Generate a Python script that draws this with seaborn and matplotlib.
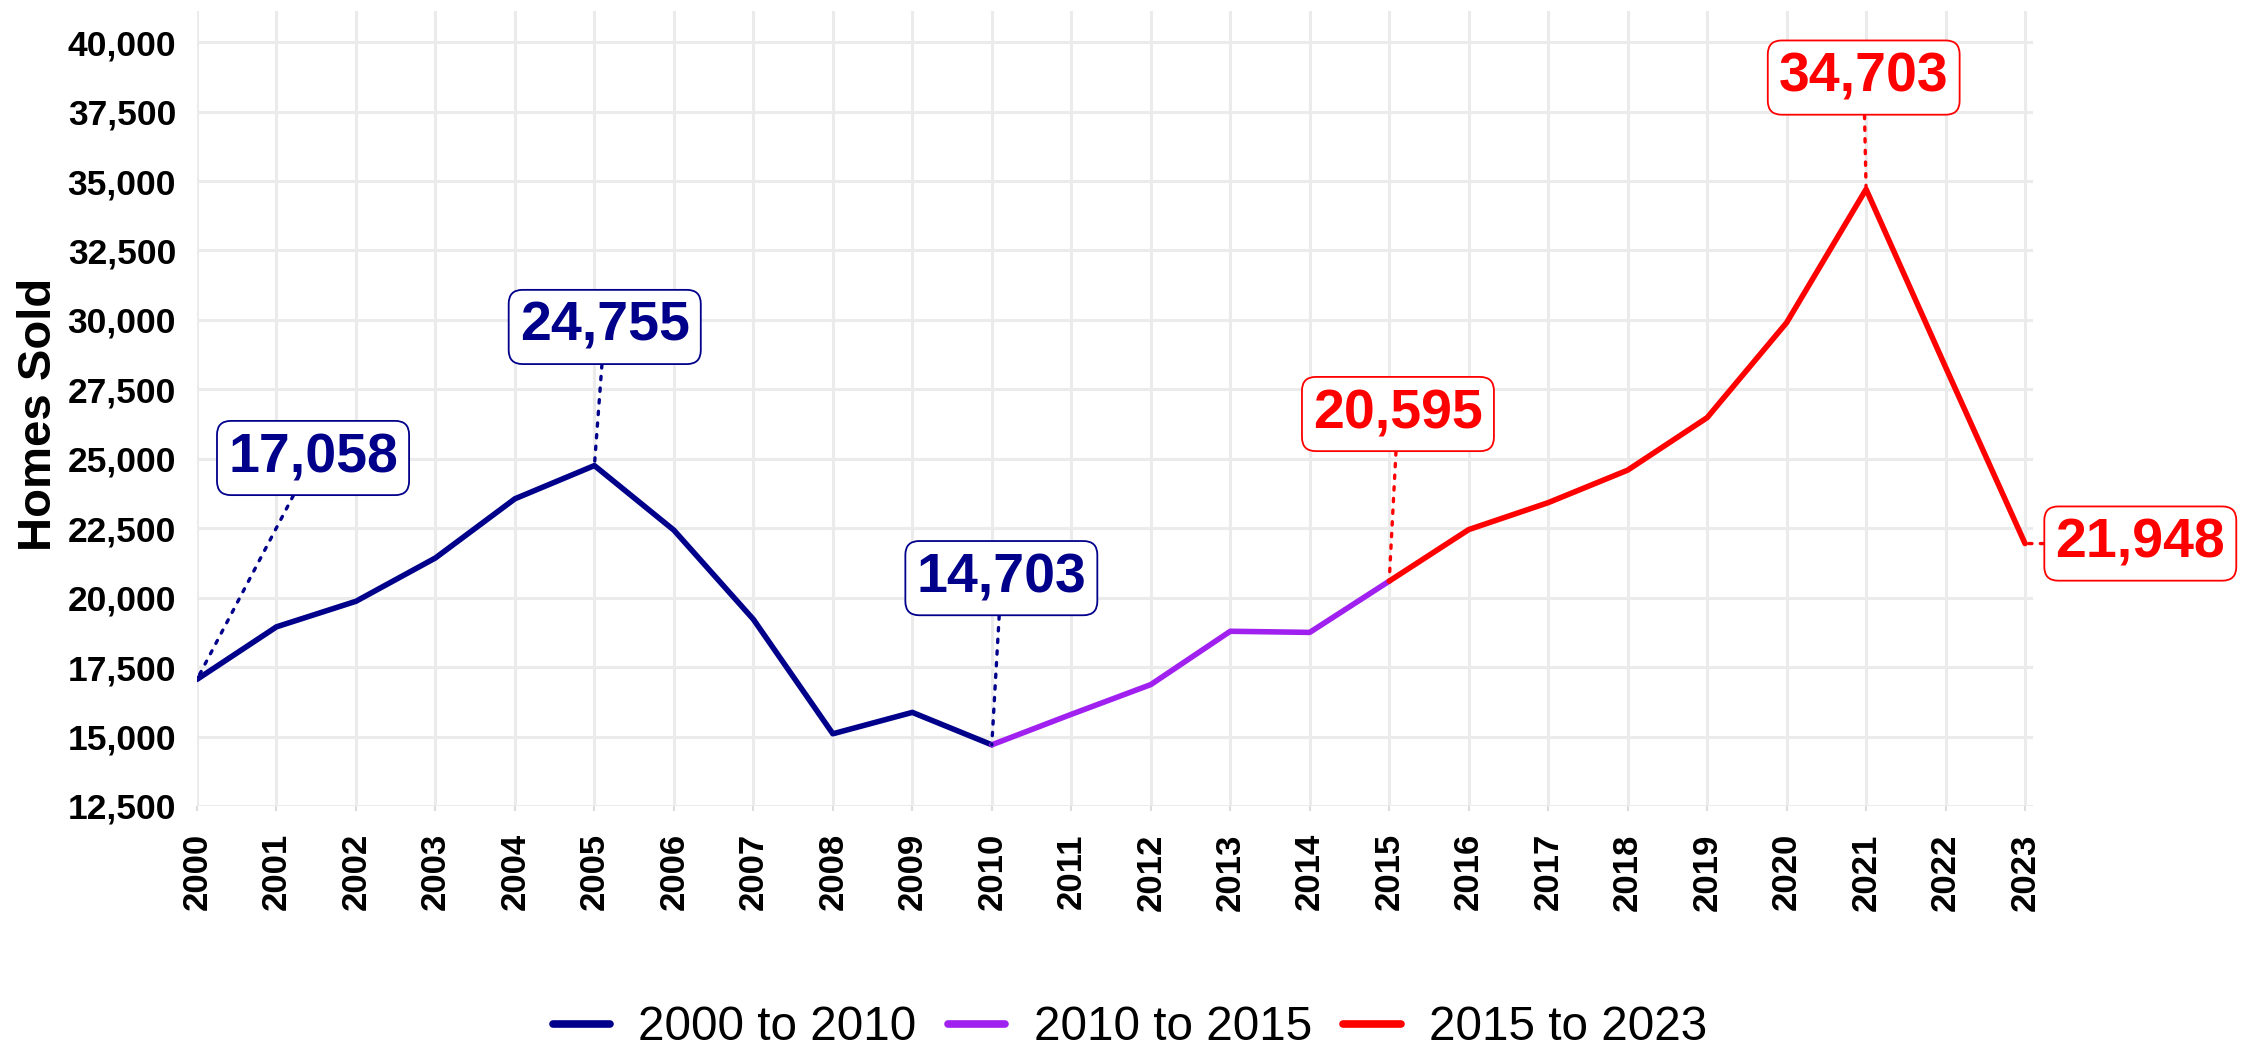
import matplotlib
matplotlib.use("Agg")
import numpy as np
import pandas as pd
import matplotlib.pyplot as plt
from matplotlib.lines import Line2D
import seaborn as sns

# data
years = list(range(2000, 2024))
homes_sold = [17058, 18950, 19870, 21430, 23560, 24755, 22430, 19220, 15100, 15870,
              14703, 15800, 16870, 18790, 18750, 20595, 22450, 23420, 24590, 26480,
              29900, 34703, 28300, 21948]

periods = ["2000 to 2010", "2010 to 2015", "2015 to 2023"]
period_start = [2000, 2010, 2015]
period_end = [2010, 2015, 2023]
period_colors = ["#00008B", "#A020F0", "#FF0000"]

label_years = [2000, 2005, 2010, 2015, 2021, 2023]
label_colors = ["#00008B", "#00008B", "#00008B", "#FF0000", "#FF0000", "#FF0000"]
# where the label boxes sit relative to their point (years, homes)
label_dx = [1.46, 0.13, 0.12, 0.11, -0.03, 1.45]
label_dy = [7970, 4990, 6000, 6016, 4020, 0]

rows = []
for name, a, b in zip(periods, period_start, period_end):
    for yr, v in zip(years, homes_sold):
        if a <= yr <= b:
            rows.append({"year": yr, "sold": v, "period": name})
df = pd.DataFrame(rows)

sns.set_theme(style="whitegrid", rc={"grid.color": "#EBEBEB", "grid.linewidth": 2.2,
                                     "text.color": "black", "axes.labelcolor": "black",
                                     "xtick.color": "black", "ytick.color": "black"})
plt.rcParams["font.family"] = ["Liberation Sans", "DejaVu Sans"]

fig = plt.figure(figsize=(22.41, 10.51), dpi=100)
ax = fig.add_axes([197 / 2241, 1 - 806 / 1051, (2033 - 197) / 2241, (806 - 11) / 1051])

sns.lineplot(data=df, x="year", y="sold", hue="period",
             palette=dict(zip(periods, period_colors)), linewidth=4,
             ax=ax, legend=False)

for yr, c, dx, dy in zip(label_years, label_colors, label_dx, label_dy):
    v = homes_sold[years.index(yr)]
    ax.annotate(f"{v:,}", xy=(yr, v), xytext=(yr + dx, v + dy), textcoords="data",
                ha="center", va="center", fontsize=40, fontweight="bold", color=c,
                bbox=dict(boxstyle="round,pad=0.2,rounding_size=0.25", fc="white", ec=c, lw=1.3),
                arrowprops=dict(arrowstyle="-", color=c, lw=2.4, linestyle=(0, (1, 2.5)),
                                shrinkA=0, shrinkB=0),
                annotation_clip=False)

ax.set_xlim(2000, 2023.1)
ax.set_ylim(12500, 41120)
ax.set_xticks(years)
ax.set_xticklabels([str(y) for y in years], rotation=90, fontsize=25, fontweight="bold")
yt = np.arange(12500, 40001, 2500)
ax.set_yticks(yt)
ax.set_yticklabels([f"{t:,}" for t in yt], fontsize=25.5, fontweight="bold")
ax.tick_params(axis="x", length=3.6, width=1.5, color="#DDDDDD", labelcolor="black",
               pad=16, bottom=True)
ax.tick_params(axis="y", length=0, pad=15, labelcolor="black")
ax.set_xlabel("")
ax.set_ylabel("Homes Sold", fontsize=34, fontweight="bold", color="black")
ax.yaxis.set_label_coords(-0.074, 0.493)
for s in ax.spines.values():
    s.set_visible(False)

handles = [Line2D([], [], color=c, lw=5.5) for c in period_colors]
fig.legend(handles, periods, loc="center", bbox_to_anchor=(1130 / 2241, 1 - 1028 / 1051),
           ncol=3, frameon=False, fontsize=34.3, handlelength=1.2, handletextpad=0.6,
           columnspacing=0.66, labelcolor="black")

fig.savefig("out.png", dpi=100)
